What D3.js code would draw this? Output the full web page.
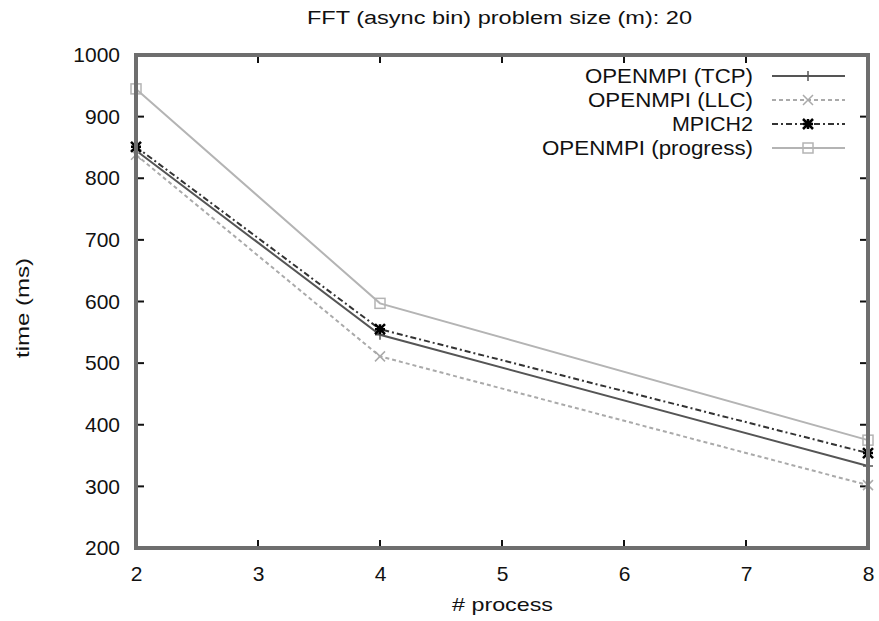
<!DOCTYPE html>
<html>
<head>
<meta charset="utf-8">
<script src="https://cdn.jsdelivr.net/npm/d3@7"></script>
<style>
  body { margin: 0; background: #fff; }
  text { font-family: "Liberation Sans", Arial, sans-serif; fill: #111; }
</style>
</head>
<body>
<div id="chart-area"></div>
<script>
// processes on x, time (ms) on y
const procs = [2, 4, 8];
const tcp = [845, 546, 333];
const llc = [838, 511, 302];
const mpich2 = [851, 555, 354];
const progress = [945, 597, 375];

const seriesNames = ["OPENMPI (TCP)", "OPENMPI (LLC)", "MPICH2", "OPENMPI (progress)"];
const xTicks = [2, 3, 4, 5, 6, 7, 8];
const yTicks = [200, 300, 400, 500, 600, 700, 800, 900, 1000];

let margin = { left: 136, right: 11, top: 55, bottom: 73 };
let svgW = 879;
let svgH = 621;
let chartW = svgW - margin.left - margin.right;
let chartH = svgH - margin.top - margin.bottom;

// the original font is wide, so text widths are stretched to fit
let series = [
  { name: seriesNames[0], values: tcp, stroke: "#555", dash: null, mark: "plus", w: 168 },
  { name: seriesNames[1], values: llc, stroke: "#aaa", dash: "4,3", mark: "cross", w: 165 },
  { name: seriesNames[2], values: mpich2, stroke: "#333", dash: "6,3,2,3", mark: "star", w: 81 },
  { name: seriesNames[3], values: progress, stroke: "#b4b4b4", dash: null, mark: "square", w: 211 }
];

let x = d3.scaleLinear().domain([2, 8]).range([0, chartW]);
let y = d3.scaleLinear().domain([200, 1000]).range([chartH, 0]);

let svg = d3.select("#chart-area").append("svg")
  .attr("width", svgW)
  .attr("height", svgH);

svg.append("text")
  .attr("x", 307)
  .attr("y", 24)
  .attr("textLength", 385)
  .attr("lengthAdjust", "spacingAndGlyphs")
  .style("font-size", "18px")
  .text("FFT (async bin) problem size (m): 20");

let g = svg.append("g").attr("transform", `translate(${margin.left},${margin.top})`);

// tick labels
g.append("g")
  .attr("transform", `translate(0,${chartH})`)
  .call(d3.axisBottom(x).tickValues(xTicks).tickSize(0).tickPadding(18).tickFormat(d3.format("d")))
  .call(a => a.select(".domain").remove())
  .selectAll("text").style("font-size", "21px").attr("fill", "#111");

g.append("g")
  .call(d3.axisLeft(y).tickValues(yTicks).tickSize(0).tickPadding(16).tickFormat(d3.format("d")))
  .call(a => a.select(".domain").remove())
  .selectAll("text").style("font-size", "21px").attr("fill", "#111");

// inward ticks, mirrored
let tl = 8;
g.selectAll(".ytick").data(yTicks).join("g").each(function (d) {
  d3.select(this).append("line").attr("x1", 0).attr("x2", tl).attr("y1", y(d)).attr("y2", y(d));
  d3.select(this).append("line").attr("x1", chartW).attr("x2", chartW - tl).attr("y1", y(d)).attr("y2", y(d));
}).selectAll("line").attr("stroke", "#111").attr("stroke-width", 2);

g.selectAll(".xtick").data(xTicks).join("g").each(function (d) {
  d3.select(this).append("line").attr("x1", x(d)).attr("x2", x(d)).attr("y1", chartH).attr("y2", chartH - tl);
  d3.select(this).append("line").attr("x1", x(d)).attr("x2", x(d)).attr("y1", 0).attr("y2", tl);
}).selectAll("line").attr("stroke", "#111").attr("stroke-width", 2);

// lines
let line = d3.line().x((d, i) => x(procs[i])).y(d => y(d));

g.selectAll(".series").data(series).join("path")
  .attr("d", d => line(d.values))
  .attr("fill", "none")
  .attr("stroke", d => d.stroke)
  .attr("stroke-width", 2)
  .attr("stroke-dasharray", d => d.dash);

const drawMark = (sel, kind, cx, cy, color) => {
  let s = 5;
  if (kind === "plus") {
    sel.append("path").attr("d", `M${cx - s},${cy}H${cx + s}M${cx},${cy - s}V${cy + s}`);
  } else if (kind === "cross") {
    sel.append("path").attr("d", `M${cx - s},${cy - s}L${cx + s},${cy + s}M${cx - s},${cy + s}L${cx + s},${cy - s}`);
  } else if (kind === "star") {
    sel.append("path").attr("d", `M${cx - s},${cy}H${cx + s}M${cx},${cy - s}V${cy + s}M${cx - s},${cy - s}L${cx + s},${cy + s}M${cx - s},${cy + s}L${cx + s},${cy - s}`);
  } else {
    sel.append("rect").attr("x", cx - s).attr("y", cy - s).attr("width", 2 * s).attr("height", 2 * s).attr("fill", "none");
  }
  sel.selectAll("path, rect").attr("stroke", color).attr("stroke-width", kind === "star" ? 2.5 : 1.5);
};

series.forEach(s => {
  let mg = g.append("g");
  s.values.forEach((v, i) => drawMark(mg, s.mark, x(procs[i]), y(v), s.mark === "star" ? "#000" : s.stroke));
});

// legend
let legend = g.append("g").attr("transform", `translate(${617},${21})`);
series.forEach((s, i) => {
  let row = legend.append("g").attr("transform", `translate(0,${i * 24})`);
  row.append("text").attr("x", -s.w).attr("y", 0).attr("dy", "0.35em")
    .attr("textLength", s.w).attr("lengthAdjust", "spacingAndGlyphs")
    .style("font-size", "20px").text(s.name);
  row.append("line").attr("x1", 19).attr("x2", 92).attr("y1", 0).attr("y2", 0)
    .attr("stroke", s.stroke).attr("stroke-width", 2).attr("stroke-dasharray", s.dash);
  drawMark(row, s.mark, 55, 0, s.mark === "star" ? "#000" : s.stroke);
});

// border
g.append("rect")
  .attr("x", 0).attr("y", 0).attr("width", chartW).attr("height", chartH)
  .attr("fill", "none").attr("stroke", "#6e6e6e").attr("stroke-width", 4);

// axis titles
svg.append("text")
  .attr("x", 452)
  .attr("y", 611)
  .attr("textLength", 101)
  .attr("lengthAdjust", "spacingAndGlyphs")
  .style("font-size", "19px")
  .text("# process");

svg.append("text")
  .attr("transform", `translate(29,358) rotate(-90)`)
  .attr("textLength", 100)
  .attr("lengthAdjust", "spacingAndGlyphs")
  .style("font-size", "19px")
  .text("time (ms)");
</script>
</body>
</html>
